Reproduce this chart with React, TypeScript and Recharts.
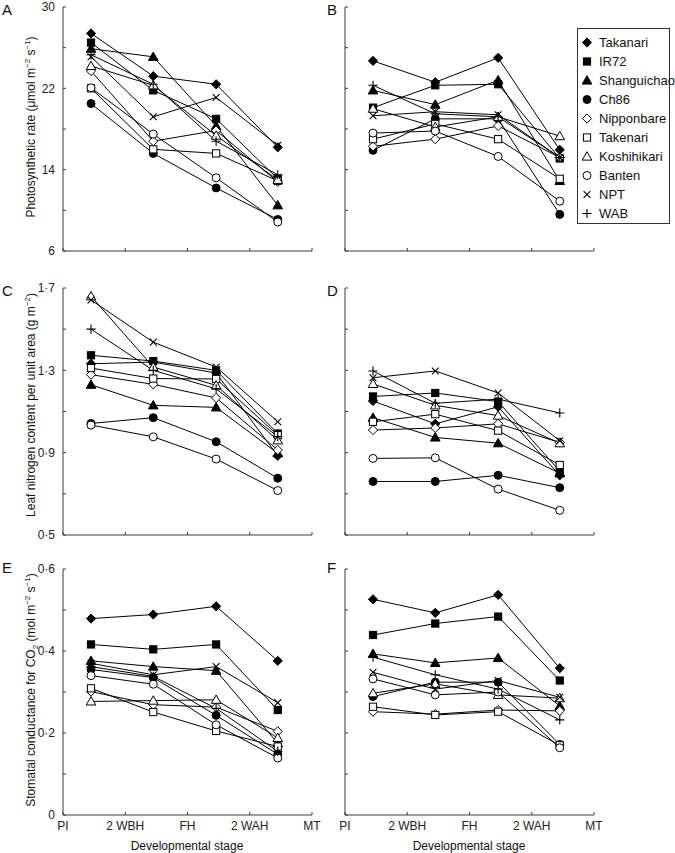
import React from 'react';
import { LineChart, Line, XAxis, YAxis } from 'recharts';

const varieties = ['Takanari', 'IR72', 'Shanguichao', 'Ch86', 'Nipponbare', 'Takenari', 'Koshihikari', 'Banten', 'NPT', 'WAB'];
const markerKinds = ['diamondF', 'squareF', 'triangleF', 'circleF', 'diamondO', 'squareO', 'triangleO', 'circleO', 'cross', 'plus'];
const stageLabels = ['PI', '2 WBH', 'FH', '2 WAH', 'MT'];
const stageTicks = [0, 1, 2, 3, 4];
const sampleStages = [0.45, 1.45, 2.46, 3.45];

// Panel A: photosynthetic rate, panel B
const photoA = [
  [27.4, 23.2, 22.4, 16.2],
  [26.5, 21.8, 19.0, 13.1],
  [25.9, 25.1, 18.3, 10.5],
  [20.5, 15.6, 12.2, 9.1],
  [23.7, 16.8, 17.85, 12.8],
  [22.0, 16.0, 15.6, 12.9],
  [24.2, 22.3, 17.35, 13.0],
  [22.05, 17.5, 13.2, 8.85],
  [25.1, 19.2, 21.1, 16.4],
  [25.3, 22.4, 16.8, 13.5],
];
const photoB = [
  [24.7, 22.6, 25.0, 15.95],
  [20.1, 22.3, 22.4, 15.1],
  [21.8, 20.4, 22.8, 12.9],
  [15.9, 19.0, 19.0, 9.6],
  [16.3, 17.0, 18.3, 15.2],
  [17.0, 18.5, 17.0, 13.1],
  [20.0, 18.2, 19.2, 17.3],
  [17.6, 17.8, 15.3, 10.9],
  [19.3, 19.7, 19.4, 15.2],
  [22.3, 19.5, 19.2, 15.2],
];
// Leaf nitrogen content
const nitroC = [
  [1.332, 1.34, 1.287, 0.885],
  [1.373, 1.345, 1.3, 0.993],
  [1.23, 1.13, 1.12, 0.897],
  [1.042, 1.07, 0.953, 0.776],
  [1.279, 1.232, 1.166, 0.913],
  [1.311, 1.26, 1.258, 0.985],
  [1.66, 1.316, 1.227, 0.96],
  [1.034, 0.977, 0.869, 0.716],
  [1.642, 1.437, 1.316, 1.05],
  [1.5, 1.3, 1.21, 0.978],
];
const nitroD = [
  [1.151, 1.04, 1.123, 0.79],
  [1.173, 1.19, 1.148, 0.81],
  [1.07, 0.974, 0.946, 0.8],
  [0.76, 0.76, 0.79, 0.73],
  [1.01, 1.02, 1.04, 0.95],
  [1.05, 1.087, 1.007, 0.84],
  [1.234, 1.13, 1.08, 0.946],
  [0.872, 0.875, 0.723, 0.62],
  [1.264, 1.297, 1.19, 0.958],
  [1.297, 1.14, 1.16, 1.093],
];
// Stomatal conductance
const condE = [
  [0.479, 0.489, 0.509, 0.376],
  [0.416, 0.404, 0.416, 0.256],
  [0.376, 0.362, 0.352, 0.175],
  [0.355, 0.335, 0.243, 0.148],
  [0.301, 0.269, 0.263, 0.204],
  [0.309, 0.251, 0.205, 0.167],
  [0.277, 0.279, 0.281, 0.188],
  [0.34, 0.319, 0.22, 0.139],
  [0.37, 0.342, 0.362, 0.274],
  [0.362, 0.338, 0.26, 0.155],
];
const condF = [
  [0.526, 0.493, 0.537, 0.358],
  [0.439, 0.467, 0.484, 0.328],
  [0.393, 0.371, 0.383, 0.266],
  [0.289, 0.324, 0.324, 0.172],
  [0.252, 0.246, 0.256, 0.254],
  [0.264, 0.244, 0.252, 0.17],
  [0.297, 0.32, 0.293, 0.285],
  [0.332, 0.293, 0.3, 0.164],
  [0.348, 0.307, 0.328, 0.287],
  [0.385, 0.342, 0.307, 0.232],
];

const photoTicks = [6, 10, 14, 18, 22, 26, 30];
const nitroTicks = [0.5, 0.7, 0.9, 1.1, 1.3, 1.5, 1.7];
const condTicks = [0, 0.1, 0.2, 0.3, 0.4, 0.5, 0.6];

const FONT = '"Liberation Sans", Arial, Helvetica, sans-serif';
const AXIS_COLOR = '#3a3a3a';

function Marker({ cx, cy, kind }: { cx: number; cy: number; kind: string }) {
  if (cx == null || cy == null || isNaN(cx) || isNaN(cy)) return <g />;
  const filled = kind.endsWith('F');
  const fill = filled ? '#000' : '#fff';
  const sw = 1;
  if (kind.startsWith('diamond')) {
    const r = 4.6;
    return <polygon points={`${cx},${cy - r} ${cx + r},${cy} ${cx},${cy + r} ${cx - r},${cy}`} fill={fill} stroke="#000" strokeWidth={sw} />;
  }
  if (kind.startsWith('square')) {
    const h = 3.6;
    return <rect x={cx - h} y={cy - h} width={2 * h} height={2 * h} fill={fill} stroke="#000" strokeWidth={sw} />;
  }
  if (kind.startsWith('triangle')) {
    const w = 4.8;
    return <polygon points={`${cx},${cy - 4.8} ${cx + w},${cy + 3.6} ${cx - w},${cy + 3.6}`} fill={fill} stroke="#000" strokeWidth={sw} />;
  }
  if (kind.startsWith('circle')) {
    return <circle cx={cx} cy={cy} r={4} fill={fill} stroke="#000" strokeWidth={sw} />;
  }
  if (kind === 'cross') {
    const d = 3.4;
    return (
      <g stroke="#000" strokeWidth={1.1}>
        <line x1={cx - d} y1={cy - d} x2={cx + d} y2={cy + d} />
        <line x1={cx - d} y1={cy + d} x2={cx + d} y2={cy - d} />
      </g>
    );
  }
  const d = 4.6;
  return (
    <g stroke="#000" strokeWidth={1.1}>
      <line x1={cx - d} y1={cy} x2={cx + d} y2={cy} />
      <line x1={cx} y1={cy - d} x2={cx} y2={cy + d} />
    </g>
  );
}

function buildRows(series: number[][]) {
  return sampleStages.map((x, i) => {
    const row: Record<string, number> = { x };
    series.forEach((s, k) => {
      row[`s${k}`] = s[i];
    });
    return row;
  });
}

type PanelProps = {
  series: number[][];
  left: number;
  top: number;
  marginTop: number;
  plotHeight: number;
  xAxisHeight: number;
  domain: [number, number];
  ticks: number[];
  yFmt: (v: number) => string;
  showYLabels: boolean;
  showXLabels: boolean;
};

function Panel(p: PanelProps) {
  const width = 330;
  const height = p.marginTop + p.plotHeight + p.xAxisHeight;
  const data = buildRows(p.series);
  return (
    <div style={{ position: 'absolute', left: p.left, top: p.top }}>
      <LineChart width={width} height={height} data={data} margin={{ top: p.marginTop, right: 18, bottom: 0, left: 0 }}>
        <XAxis
          dataKey="x"
          type="number"
          domain={[0, 4]}
          ticks={stageTicks}
          interval={0}
          height={p.xAxisHeight}
          tickSize={3}
          tickMargin={3}
          stroke={AXIS_COLOR}
          axisLine={{ stroke: AXIS_COLOR, strokeWidth: 1 }}
          tickLine={{ stroke: AXIS_COLOR, transform: 'translate(0,-3)' }}
          tick={{ fill: '#222', fontSize: 12, fontFamily: FONT }}
          tickFormatter={(v: number) => (p.showXLabels ? stageLabels[stageTicks.indexOf(v)] : '')}
        />
        <YAxis
          type="number"
          domain={p.domain}
          ticks={p.ticks}
          interval={0}
          width={63}
          tickSize={3}
          tickMargin={5}
          allowDataOverflow
          stroke={AXIS_COLOR}
          axisLine={{ stroke: AXIS_COLOR, strokeWidth: 1 }}
          tickLine={{ stroke: AXIS_COLOR, transform: 'translate(3,0)' }}
          tick={{ fill: '#222', fontSize: 12, fontFamily: FONT }}
          tickFormatter={(v: number, i: number) => (p.showYLabels && i % 2 === 0 ? p.yFmt(v) : '')}
        />
        {p.series.map((_, k) => (
          <Line
            key={k}
            dataKey={`s${k}`}
            name={varieties[k]}
            stroke="#000"
            strokeWidth={1}
            isAnimationActive={false}
            dot={(dp: any) => <Marker key={`m${k}-${dp.index}`} cx={dp.cx} cy={dp.cy} kind={markerKinds[k]} />}
            activeDot={false}
          />
        ))}
      </LineChart>
    </div>
  );
}

const fmtInt = (v: number) => String(v);
const fmtDec = (v: number) => (v === 0 ? '0' : v.toFixed(1).replace('.', '\u00B7'));

function Legend() {
  return (
    <div
      style={{
        position: 'absolute',
        left: 577,
        top: 28,
        width: 93,
        height: 196,
        border: '1px solid #333',
        background: '#fff',
        boxSizing: 'border-box',
        fontFamily: FONT,
        fontSize: 13,
        color: '#111',
      }}
    >
      {varieties.map((v, k) => (
        <div key={k} style={{ position: 'absolute', left: 0, top: 4 + k * 19, height: 19, display: 'flex', alignItems: 'center', whiteSpace: 'nowrap' }}>
          <svg width={20} height={19} style={{ display: 'block' }}>
            <Marker cx={9} cy={9.5} kind={markerKinds[k]} />
          </svg>
          <span style={{ marginLeft: 1 }}>{v}</span>
        </div>
      ))}
    </div>
  );
}

function Annotations() {
  const t = { fontFamily: FONT, fill: '#111' } as const;
  return (
    <svg width={675} height={853} style={{ position: 'absolute', left: 0, top: 0, pointerEvents: 'none' }}>
      <text x={2} y={15} fontSize={15} {...t}>A</text>
      <text x={327} y={15} fontSize={15} {...t}>B</text>
      <text x={2} y={296} fontSize={15} {...t}>C</text>
      <text x={327} y={296} fontSize={15} {...t}>D</text>
      <text x={2} y={573} fontSize={15} {...t}>E</text>
      <text x={327} y={573} fontSize={15} {...t}>F</text>

      <text transform="translate(35,127) rotate(-90)" textAnchor="middle" fontSize={12} {...t}>
        Photosynthetic rate (μmol m<tspan fontSize={8} dy={-5}>−2</tspan>
        <tspan dy={5}> s</tspan>
        <tspan fontSize={8} dy={-5}>−1</tspan>
        <tspan dy={5}>)</tspan>
      </text>
      <text transform="translate(35,405) rotate(-90)" textAnchor="middle" fontSize={12} {...t}>
        Leaf nitrogen content per unit area (g m<tspan fontSize={8} dy={-5}>−2</tspan>
        <tspan dy={5}>)</tspan>
      </text>
      <text transform="translate(35,690) rotate(-90)" textAnchor="middle" fontSize={12} {...t}>
        Stomatal conductance for CO<tspan fontSize={8} dy={3}>2</tspan>
        <tspan dy={-3}> (mol m</tspan>
        <tspan fontSize={8} dy={-5}>−2</tspan>
        <tspan dy={5}> s</tspan>
        <tspan fontSize={8} dy={-5}>−1</tspan>
        <tspan dy={5}>)</tspan>
      </text>

      <text x={187} y={850} textAnchor="middle" fontSize={12} {...t}>Developmental stage</text>
      <text x={469} y={850} textAnchor="middle" fontSize={12} {...t}>Developmental stage</text>
    </svg>
  );
}

export default function App() {
  const rows = [
    { top: 0, marginTop: 7, plotHeight: 244, xAxisHeight: 9, domain: [6, 30] as [number, number], ticks: photoTicks, fmt: fmtInt, left: photoA, right: photoB, xl: false },
    { top: 280, marginTop: 8, plotHeight: 247, xAxisHeight: 9, domain: [0.5, 1.7] as [number, number], ticks: nitroTicks, fmt: fmtDec, left: nitroC, right: nitroD, xl: false },
    { top: 560, marginTop: 9, plotHeight: 246, xAxisHeight: 38, domain: [0, 0.6] as [number, number], ticks: condTicks, fmt: fmtDec, left: condE, right: condF, xl: true },
  ];
  return (
    <div style={{ position: 'absolute', left: 0, top: 0, width: 675, height: 853, background: '#fff', overflow: 'hidden', fontFamily: FONT }}>
      {rows.map((r, i) => (
        <React.Fragment key={i}>
          <Panel series={r.left} left={0} top={r.top} marginTop={r.marginTop} plotHeight={r.plotHeight} xAxisHeight={r.xAxisHeight} domain={r.domain} ticks={r.ticks} yFmt={r.fmt} showYLabels={true} showXLabels={r.xl} />
          <Panel series={r.right} left={282} top={r.top} marginTop={r.marginTop} plotHeight={r.plotHeight} xAxisHeight={r.xAxisHeight} domain={r.domain} ticks={r.ticks} yFmt={r.fmt} showYLabels={false} showXLabels={r.xl} />
        </React.Fragment>
      ))}
      <Legend />
      <Annotations />
    </div>
  );
}
